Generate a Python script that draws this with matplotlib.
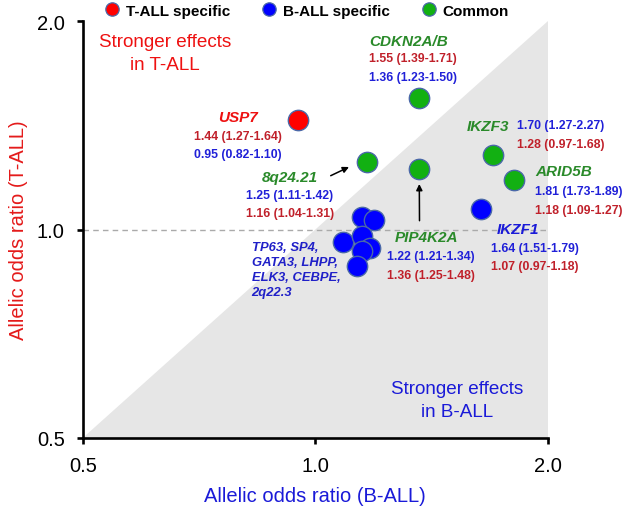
import matplotlib
matplotlib.use("Agg")
import matplotlib.pyplot as plt
from matplotlib.lines import Line2D
from matplotlib.patches import Polygon

plt.rcParams['font.family'] = ['Liberation Sans', 'DejaVu Sans']

# ---------------- data ----------------
genes = ['USP7', 'CDKN2A/B', '8q24.21', 'PIP4K2A', 'IKZF3', 'ARID5B', 'IKZF1',
         'TP63', 'SP4', 'GATA3', 'LHPP', 'ELK3', 'CEBPE', '2q22.3']
or_ball = [0.95, 1.36, 1.165, 1.36, 1.70, 1.81, 1.64,
           1.148, 1.192, 1.087, 1.148, 1.177, 1.148, 1.131]
or_tall = [1.44, 1.55, 1.253, 1.223, 1.28, 1.18, 1.07,
           1.041, 1.032, 0.960, 0.978, 0.939, 0.932, 0.887]
groups = ['T', 'C', 'C', 'C', 'C', 'C', 'B',
          'B', 'B', 'B', 'B', 'B', 'B', 'B']
group_names = {'T': 'T-ALL specific', 'B': 'B-ALL specific', 'C': 'Common'}
group_order = ['T', 'B', 'C']
ticks = [0.5, 1.0, 2.0]
tick_labels = ['0.5', '1.0', '2.0']

# colours
FILL = {'T': '#ff0000', 'B': '#0000ff', 'C': '#12b012'}
EDGE = '#4a68a8'
NAME_GREEN = '#2a8a2a'
NUM_RED = '#c0202a'
NUM_BLUE = '#2020d8'

# ---------------- figure ----------------
W, H = 633, 510
fig = plt.figure(figsize=(W / 100, H / 100), dpi=100)
x0, x1, y0, y1 = 82.7, 548.0, 22.0, 439.0  # axes box in pixels
ax = fig.add_axes([x0 / W, 1 - y1 / H, (x1 - x0) / W, (y1 - y0) / H])
ax.set_xscale('log')
ax.set_yscale('log')
ax.set_xlim(0.5, 2.0)
ax.set_ylim(0.5, 2.0)

def fx(px):
    return (px - x0) / (x1 - x0)

def fy(py):
    return (y1 - py) / (y1 - y0)

# gray triangle (below diagonal)
tri = Polygon([(0.5, 0.5), (2.0, 2.0), (2.0, 0.5)], closed=True,
              facecolor='#e6e6e6', edgecolor='none', zorder=0)
ax.add_patch(tri)
ax.axhline(1.0, color='#aaaaaa', lw=1.0, ls=(0, (4, 3)), zorder=1)

# points
for g, b, t in zip(groups, or_ball, or_tall):
    ax.scatter([b], [t], s=215, c=FILL[g], edgecolors=EDGE, linewidths=1.0,
               zorder=3)

# spines / ticks
for s in ['top', 'right']:
    ax.spines[s].set_visible(False)
for s in ['left', 'bottom']:
    ax.spines[s].set_linewidth(1.9)
ax.set_xticks(ticks)
ax.set_xticklabels(tick_labels)
ax.set_yticks(ticks)
ax.set_yticklabels(tick_labels)
ax.minorticks_off()
ax.tick_params(axis='both', direction='out', length=4, width=1.9,
               labelsize=14.5, pad=9)
ax.set_xlabel('Allelic odds ratio (B-ALL)', fontsize=14.5, color='#1a1ad8',
              labelpad=8)
ax.set_ylabel('Allelic odds ratio (T-ALL)', fontsize=14.5, color='#e41a1a',
              labelpad=6)

T = ax.transAxes

def txt(px, py, s, color, size, ha='center', style='normal', weight='bold', ls=1.2):
    ax.text(fx(px), fy(py), s, transform=T, ha=ha, va='center', color=color,
            fontsize=size, fontstyle=style, fontweight=weight, linespacing=ls,
            zorder=4)

# region labels
txt(165, 54, 'Stronger effects\nin T-ALL', '#ee1111', 13.6, weight='normal', ls=1.42)
txt(457.5, 401, 'Stronger effects\nin B-ALL', '#1a1ad8', 13.6, weight='normal', ls=1.42)

NS = 11    # gene name size
VS = 8.8   # value size

# USP7
txt(238, 118, 'USP7', '#ee1111', NS, style='italic')
txt(238, 136.7, '1.44 (1.27-1.64)', NUM_RED, VS)
txt(238, 155, '0.95 (0.82-1.10)', NUM_BLUE, VS)
# CDKN2A/B
txt(409, 41.7, 'CDKN2A/B', NAME_GREEN, NS, style='italic')
txt(413, 59.3, '1.55 (1.39-1.71)', NUM_RED, VS)
txt(413, 78.3, '1.36 (1.23-1.50)', NUM_BLUE, VS)
# IKZF3
txt(488, 126.7, 'IKZF3', NAME_GREEN, NS, style='italic')
txt(517.3, 126, '1.70 (1.27-2.27)', NUM_BLUE, VS, ha='left')
txt(517.3, 144.5, '1.28 (0.97-1.68)', NUM_RED, VS, ha='left')
# ARID5B
txt(535, 171.7, 'ARID5B', NAME_GREEN, NS, ha='left', style='italic')
txt(535, 192.3, '1.81 (1.73-1.89)', NUM_BLUE, VS, ha='left')
txt(535, 210.5, '1.18 (1.09-1.27)', NUM_RED, VS, ha='left')
# 8q24.21
txt(290, 178.3, '8q24.21', NAME_GREEN, NS, style='italic')
txt(290, 195.7, '1.25 (1.11-1.42)', NUM_BLUE, VS)
txt(290, 214, '1.16 (1.04-1.31)', NUM_RED, VS)
# PIP4K2A
txt(426.7, 238.3, 'PIP4K2A', NAME_GREEN, NS, style='italic')
txt(431, 257.3, '1.22 (1.21-1.34)', NUM_BLUE, VS)
txt(431, 276, '1.36 (1.25-1.48)', NUM_RED, VS)
# IKZF1
txt(517.5, 230, 'IKZF1', '#1a1ad8', NS, style='italic')
txt(490.7, 249, '1.64 (1.51-1.79)', NUM_BLUE, VS, ha='left')
txt(490.7, 267.3, '1.07 (0.97-1.18)', NUM_RED, VS, ha='left')
# cluster
ax.text(fx(251.7), fy(241.5), 'TP63, SP4,\nGATA3, LHPP,\nELK3, CEBPE,\n2q22.3',
        transform=T, ha='left', va='top', color='#2020c8', fontsize=9.4,
        fontstyle='italic', fontweight='bold', linespacing=1.36, zorder=4)

# arrows
arrow_kw = dict(arrowstyle='-|>', color='black', lw=1.1, mutation_scale=9,
                shrinkA=0, shrinkB=0)
ax.annotate('', xy=(fx(349), fy(168)), xytext=(fx(330.7), fy(176.7)),
            xycoords=T, textcoords=T, arrowprops=arrow_kw, zorder=4)
ax.annotate('', xy=(fx(419.3), fy(185)), xytext=(fx(419.5), fy(221.7)),
            xycoords=T, textcoords=T, arrowprops=arrow_kw, zorder=4)

# legend
handles = [Line2D([], [], ls='none', marker='o', markersize=9.6,
                  markerfacecolor=FILL[g], markeredgecolor=EDGE,
                  markeredgewidth=0.9, label=group_names[g]) for g in group_order]
leg = fig.legend(handles=handles, loc='center', ncol=3, frameon=False,
                 bbox_to_anchor=(306.5 / W, 1 - 11.7 / H),
                 prop={'size': 11, 'weight': 'bold'}, handlelength=1.0,
                 handletextpad=0.4, columnspacing=2.05, borderpad=0,
                 borderaxespad=0)

fig.savefig('out.png', dpi=100)
